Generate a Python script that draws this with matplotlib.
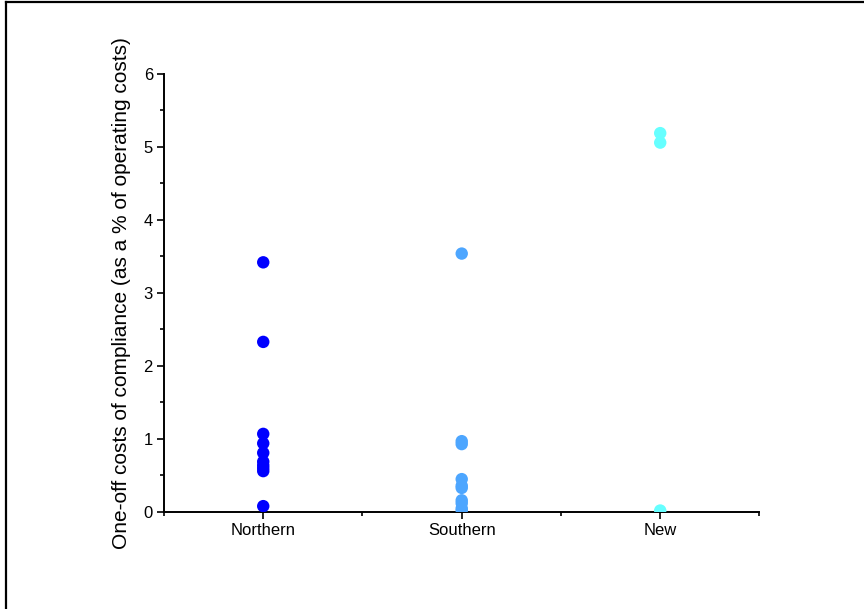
import matplotlib
matplotlib.use("Agg")
import matplotlib.pyplot as plt
from matplotlib.lines import Line2D
from matplotlib.ticker import MultipleLocator, FixedLocator

plt.rcParams["font.family"] = ["Liberation Sans", "DejaVu Sans"]

# one-off compliance costs by group (% of operating costs)
groups = ["Northern", "Southern", "New"]
colors = ["#0000FF", "#4DA6FF", "#66FFFF"]
northern = [3.42, 2.33, 1.07, 0.94, 0.81, 0.69, 0.64, 0.60, 0.56, 0.08]
southern = [3.54, 0.97, 0.93, 0.45, 0.36, 0.33, 0.16, 0.12, 0.05, 0.02]
new = [5.19, 5.06, 0.02]
values = [northern, southern, new]

fig = plt.figure(figsize=(8.64, 6.09), dpi=100)
ax = fig.add_axes([0.1898, 0.1593, 0.6892, 0.7192])

for i, (vals, c) in enumerate(zip(values, colors), start=1):
    ax.scatter([i] * len(vals), vals, s=80, color=c, edgecolors="none", zorder=3)

ax.set_xlim(0.5, 3.5)
ax.set_ylim(0, 6)
ax.set_xticks([1, 2, 3])
ax.set_xticklabels(groups)
ax.xaxis.set_minor_locator(FixedLocator([0.5, 1.5, 2.5, 3.5]))
ax.yaxis.set_major_locator(MultipleLocator(1))
ax.yaxis.set_minor_locator(MultipleLocator(0.5))
ax.tick_params(axis="both", which="major", direction="out", length=5, width=1.2,
               labelsize=12, pad=3)
ax.tick_params(axis="both", which="minor", direction="out", length=3, width=1.2)

for side in ["top", "right"]:
    ax.spines[side].set_visible(False)
for side in ["left", "bottom"]:
    ax.spines[side].set_linewidth(1.4)

ax.set_ylabel("One-off costs of compliance (as a % of operating costs)",
              fontsize=15, labelpad=9)

# outer frame: top and left edges only
fig.add_artist(Line2D([0.007, 1.0], [0.996, 0.996], transform=fig.transFigure,
                      color="black", linewidth=1.6))
fig.add_artist(Line2D([0.007, 0.007], [0.0, 0.996], transform=fig.transFigure,
                      color="black", linewidth=1.6))

fig.savefig("out.png", dpi=100)
